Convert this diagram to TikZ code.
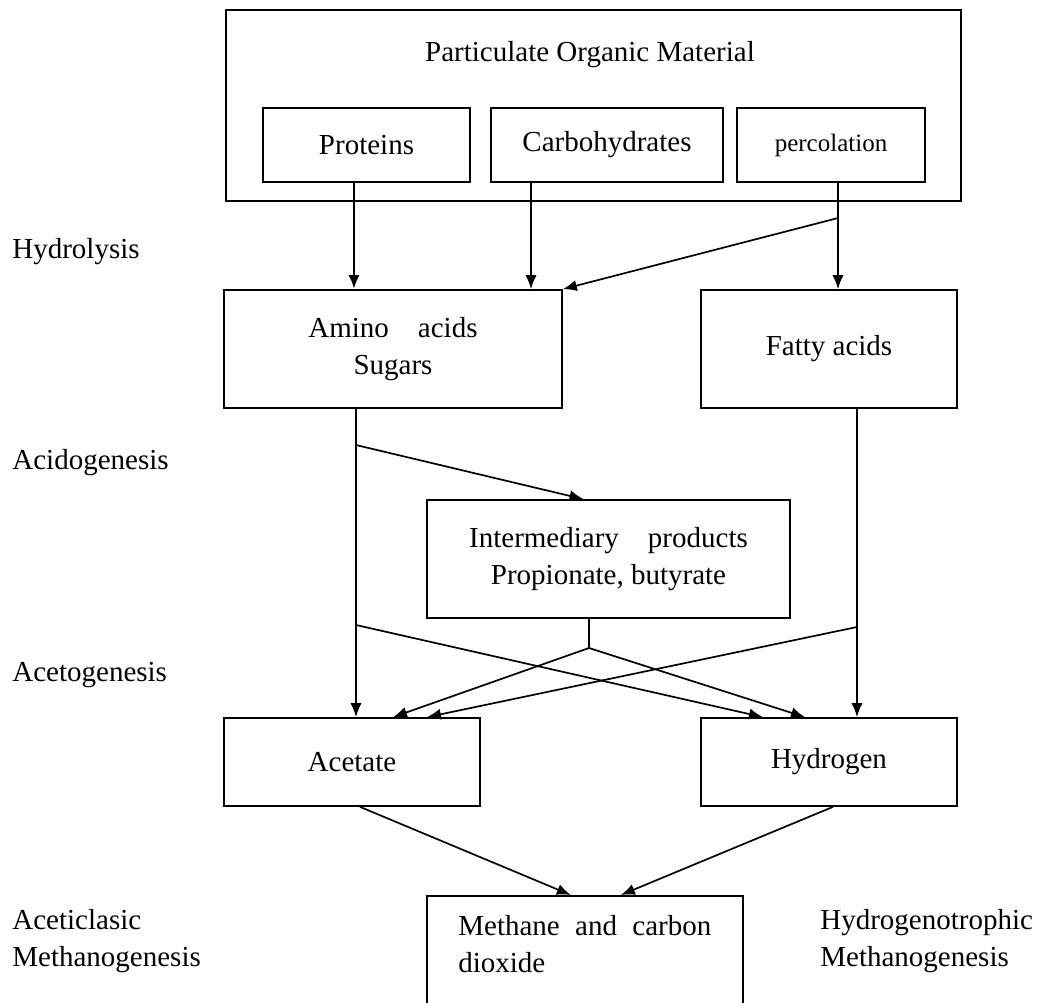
\documentclass[tikz,border=0pt]{standalone}
\usepackage{fontspec}
\setmainfont{Liberation Serif}
\usetikzlibrary{arrows.meta}

\begin{document}
\begin{tikzpicture}[
  x=0.5pt, y=-0.5pt,
  font=\fontsize{14.5}{18.5}\selectfont,
  box/.style={draw, line width=0.85pt, inner sep=0pt, align=center},
  stage/.style={anchor=west, inner sep=0pt, align=left},
  arr/.style={-{Latex[length=7pt,width=5.6pt]}, line width=0.85pt},
  link/.style={line width=0.85pt},
]

\useasboundingbox (0,0) rectangle (1041,1003);
\clip (0,0) rectangle (1041,1003);

\node[box, minimum width=367.5pt, minimum height=95.5pt] (pom) at (593.5,105.5) {};
\node (pomtitle) at (590,55) {Particulate Organic Material};

\node[box, minimum width=103.5pt, minimum height=37pt] (prot) at (366.5,145) {Proteins};
\node[box, minimum width=116pt, minimum height=37pt] (carb) at (607,145) {Carbohydrates};
\node[box, minimum width=94pt, minimum height=37pt,
  font=\fontsize{12.5}{15}\selectfont] (perc) at (831,145) {percolation};

\node[box, minimum width=169pt, minimum height=59pt] (amino) at (393,349) {Amino\quad acids\\Sugars};
\node[box, minimum width=128pt, minimum height=59pt] (fatty) at (829,349) {Fatty acids};

\node[box, minimum width=181.5pt, minimum height=59pt] (inter) at (608.5,559)
  {Intermediary\quad products\\Propionate, butyrate};

\node[box, minimum width=128pt, minimum height=44pt] (acetate) at (352,762) {Acetate};
\node[box, minimum width=128pt, minimum height=44pt] (hydrogen) at (829,762) {Hydrogen};

\node[box, anchor=north west, minimum width=158pt, inner ysep=10pt] (methane) at (426,895)
  {\parbox[t][60pt][t]{126.5pt}{\hyphenpenalty=10000 Methane and carbon dioxide}};

% stage labels
\node[stage] (hydro) at (12,252) {Hydrolysis};
\node[stage] (acido) at (12,463) {Acidogenesis};
\node[stage] (aceto) at (12,675) {Acetogenesis};
\node[stage] (acetic) at (12,941.5) {Aceticlasic\\Methanogenesis};
\node[stage] (hydrotroph) at (820,941.5) {Hydrogenotrophic\\Methanogenesis};

% branch points
\coordinate (protstem) at (354,0);
\coordinate (carbstem) at (531,0);
\coordinate (percstem) at (838,0);
\coordinate (percsplit) at (838,218);
\coordinate (aminostem) at (356,0);
\coordinate (aminosplitA) at (356,445);
\coordinate (aminosplitB) at (356,625);
\coordinate (fattystem) at (857,0);
\coordinate (fattysplit) at (857,627);
\coordinate (intersplit) at (589,648);

\draw[arr, line width=1.4pt] (prot.south -| protstem) -- (amino.north -| protstem);
\draw[arr] (carb.south -| carbstem) -- (amino.north -| carbstem);
\draw[arr] (perc.south -| percstem) -- (fatty.north -| percstem);
\draw[arr] (percsplit) -- (amino.north east);

\draw[arr] (amino.south -| aminostem) -- (acetate.north -| aminostem);
\draw[arr] (aminosplitA) -- ([xshift=-12.5pt]inter.north);
\draw[arr] (fatty.south -| fattystem) -- (hydrogen.north -| fattystem);

\draw[link] (inter.south -| intersplit) -- (intersplit);
\draw[arr] (intersplit) -- ([xshift=20.5pt]acetate.north);
\draw[arr] (intersplit) -- ([xshift=-12pt]hydrogen.north);
\draw[arr] (aminosplitB) -- ([xshift=-33pt]hydrogen.north);
\draw[arr] (fattysplit) -- ([xshift=37.5pt]acetate.north);

\draw[arr] ([xshift=4pt]acetate.south) -- ([xshift=-7pt]methane.north);
\draw[arr] ([xshift=2pt]hydrogen.south) -- ([xshift=18pt]methane.north);

\end{tikzpicture}
\end{document}
